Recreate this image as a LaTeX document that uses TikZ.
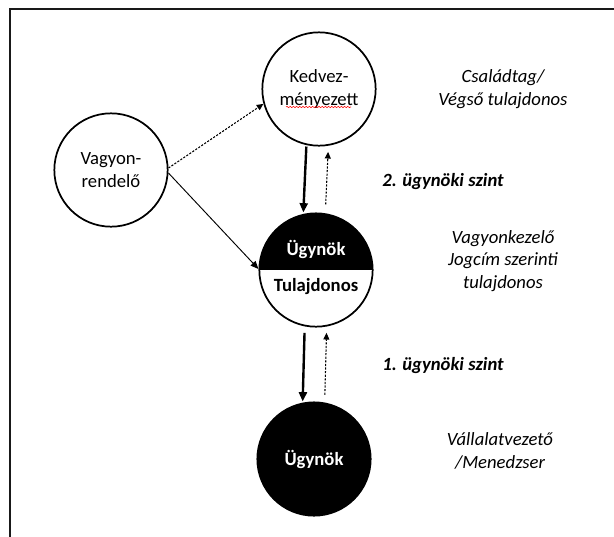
\documentclass[tikz,border=0pt]{standalone}
\usepackage{fontspec}
\setmainfont{Carlito}
\usetikzlibrary{arrows.meta,decorations.pathmorphing}
\begin{document}
\begin{tikzpicture}[x=0.75pt,y=-0.75pt,
  every node/.style={font=\fontsize{14}{17}\selectfont, align=center},
  roleball/.style={circle, draw, line width=1.3pt, minimum size=85pt, inner sep=0pt},
  darkball/.style={roleball, fill=black, text=white, font=\fontsize{14}{17}\selectfont\bfseries},
  halfball/.style={roleball, path picture={\fill[black] (path picture bounding box.west) rectangle (path picture bounding box.north east);}},
  note/.style={font=\fontsize{14}{17}\selectfont\itshape},
  level/.style={font=\fontsize{14}{17}\selectfont\bfseries\itshape},
  down/.style={line width=1.8pt, -{Triangle[length=7pt,width=6pt]}},
  back/.style={line width=0.8pt, dash pattern=on 1.6pt off 1.1pt, -{Triangle[length=5pt,width=4.5pt]}},
  link/.style={line width=0.7pt, -{Triangle[length=6pt,width=5pt]}},
]
\useasboundingbox (0,0) rectangle (614,536);
\fill[white] (0,0) rectangle (614,536);
\clip (0,0) rectangle (614,536);

% outer frame (open towards the right and the bottom)
\draw[line width=1.6pt, black!90] (10,560) -- (10,9) -- (640,9);

% parties
\node[roleball] (kedv) at (319,89) {Kedvez-\\ményezett};
\node[roleball] (vr) at (111,170) {Vagyon-\\rendelő};
\node[halfball] (mid) at (316,270) {};
\node[font=\fontsize{14}{17}\selectfont\bfseries, text=white] (midtop) at (316,249) {Ügynök};
\node[font=\fontsize{14}{17}\selectfont\bfseries] (midbot) at (316,287) {Tulajdonos};
\node[darkball] (bot) at (314,459) {Ügynök};

% spelling squiggle under the second line
\coordinate (sq1) at (286,107);
\coordinate (sq2) at (351,107);
\draw[red, line width=0.4pt, decorate, decoration={snake, amplitude=0.5pt, segment length=2.4pt}] (sq1) -- (sq2);

% connectors
\draw[back] (vr.2) -- (kedv.195);
\draw[link] (vr.-3) -- (mid.179);
\draw[down] ([xshift=-9.5pt]kedv.south) -- ([xshift=-9.5pt]mid.north);
\draw[back, shorten <=6pt, shorten >=4pt] ([xshift=7pt]mid.north) -- ([xshift=7pt]kedv.south);
\draw[down, shorten <=4pt] ([xshift=-8.5pt]mid.south) -- ([xshift=-8.5pt]bot.north);
\draw[back, shorten <=5pt, shorten >=4pt] ([xshift=8pt]bot.north) -- ([xshift=8pt]mid.south);

% level labels
\node[level] (lvl2) at (443,182) {2. ügynöki szint};
\node[level] (lvl1) at (443,366) {1. ügynöki szint};

% role descriptions
\node[note] (r1) at (503,89) {Családtag/\\Végső tulajdonos};
\node[note] (r2) at (503,261) {Vagyonkezelő\\Jogcím szerinti\\tulajdonos};
\node[note] (r3) at (500,451) {Vállalatvezető\\/Menedzser};
\end{tikzpicture}
\end{document}
